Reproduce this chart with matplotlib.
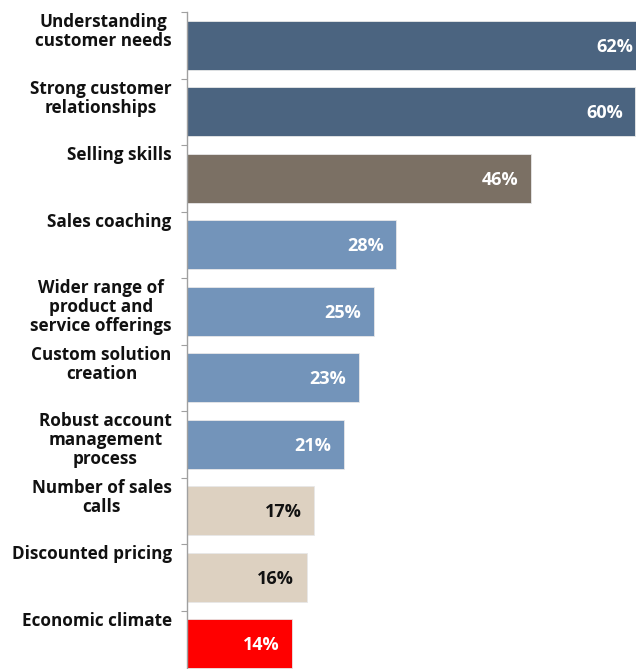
import matplotlib
matplotlib.use("Agg")
import matplotlib.pyplot as plt
import numpy as np

categories = [
    "Understanding\ncustomer needs",
    "Strong customer\nrelationships",
    "Selling skills",
    "Sales coaching",
    "Wider range of\nproduct and\nservice offerings",
    "Custom solution\ncreation",
    "Robust account\nmanagement\nprocess",
    "Number of sales\ncalls",
    "Discounted pricing",
    "Economic climate",
]
values = [62, 60, 46, 28, 25, 23, 21, 17, 16, 14]
value_labels = ["62%", "60%", "46%", "28%", "25%", "23%", "21%", "17%", "16%", "14%"]
bar_colors = ["#4B6480", "#4B6480", "#7B7064", "#7394BA", "#7394BA", "#7394BA",
              "#7394BA", "#DDD1C1", "#DDD1C1", "#FF0000"]
text_colors = ["white"] * 7 + ["#111111", "#111111", "white"]

W, H = 636, 669
fig = plt.figure(figsize=(W / 100, H / 100), dpi=100)
fig.patch.set_facecolor("white")

px_per_unit = 7.47
xmax = 65
left_px = 187
top_px = 12
cat_px = 66.5
n = len(categories)
ax = fig.add_axes([left_px / W, (H - top_px - n * cat_px) / H,
                   xmax * px_per_unit / W, n * cat_px / H])

y = np.arange(n)
ax.barh(y, values, height=0.73, color=bar_colors, edgecolor="#E8E8E8", linewidth=0.6)
ax.set_ylim(n - 0.5, -0.5)
ax.set_xlim(0, xmax)

# visible right edge of the figure in data units (bars run past it, as in the reference)
visible_max = (W - left_px) / px_per_unit

font = "Open Sans"
for i, (v, lab, tc) in enumerate(zip(values, value_labels, text_colors)):
    if v > visible_max:
        x_anchor, off = visible_max, -2
    else:
        x_anchor, off = v, -9
    ax.annotate(lab, xy=(x_anchor, i), xytext=(off, -1), textcoords="offset points",
                ha="right", va="center", color=tc, fontsize=13, fontweight="bold",
                family=font)

for i, c in enumerate(categories):
    ax.annotate(c, xy=(0, i - 0.5), xytext=(-11, -1), textcoords="offset points",
                ha="right", va="top", multialignment="center", fontsize=12.3,
                fontweight="bold", family=font, color="#111111", linespacing=1.05,
                annotation_clip=False)

for s in ["top", "right", "bottom"]:
    ax.spines[s].set_visible(False)
ax.spines["left"].set_color("#A0A0A0")
ax.spines["left"].set_linewidth(1.0)
ax.set_yticks(np.arange(n + 1) - 0.5)
ax.set_yticklabels([])
ax.tick_params(axis="y", length=4, color="#A0A0A0", direction="out")
ax.set_xticks([])

fig.savefig("out.png", dpi=100)
